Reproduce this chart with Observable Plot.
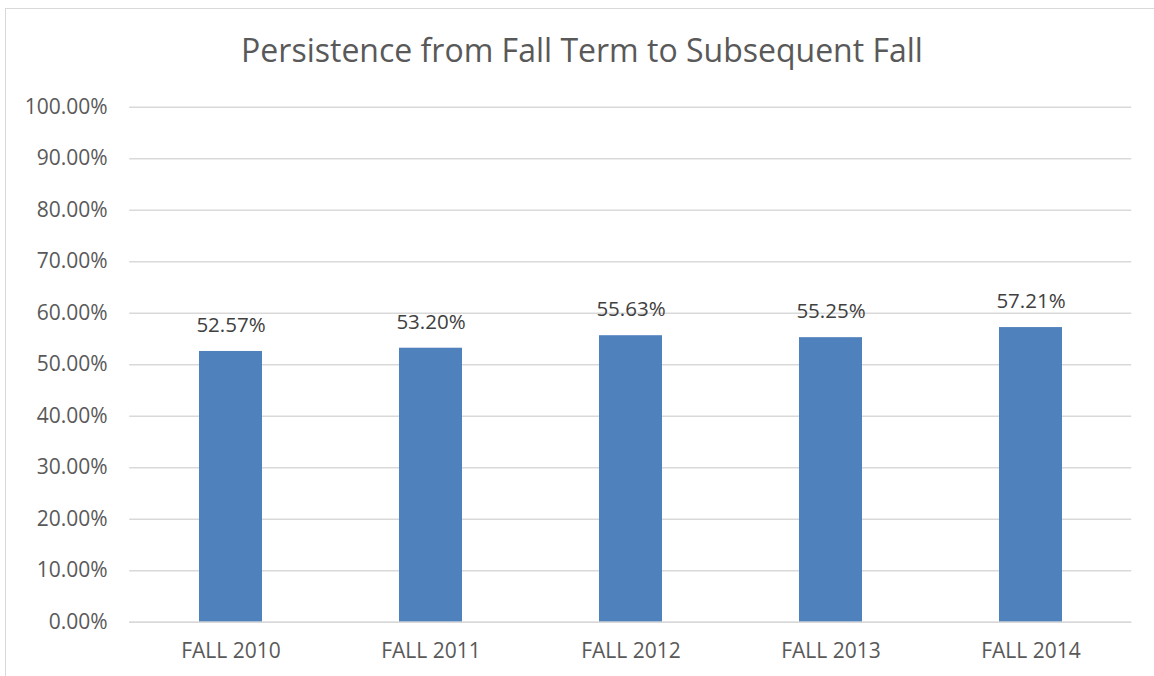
<!DOCTYPE html>
<html>
<head>
<meta charset="utf-8">
<script src="https://cdn.jsdelivr.net/npm/d3@7"></script>
<script src="https://cdn.jsdelivr.net/npm/@observablehq/plot@0.6"></script>
<style>
  html, body { margin: 0; padding: 0; background: #fff; }
  #wrap { position: relative; width: 1154px; height: 676px; overflow: hidden; font-family: "Open Sans", sans-serif; }
  #frame { position: absolute; left: 5px; top: 8px; width: 1200px; height: 700px; border-left: 1.5px solid #d9d9d9; border-top: 1.5px solid #d9d9d9; }
  #title { position: absolute; left: 5px; width: 1154px; top: 27px; text-align: center; font-size: 32px; color: #595959; line-height: 46px; }
  #chart { position: absolute; left: 0; top: 90px; }
</style>
</head>
<body>
<div id="wrap">
  <div id="frame"></div>
  <div id="title">Persistence from Fall Term to Subsequent Fall</div>
  <div id="chart"></div>
</div>
<script>
const categories = ["FALL 2010", "FALL 2011", "FALL 2012", "FALL 2013", "FALL 2014"];
const values = [0.5257, 0.5320, 0.5563, 0.5525, 0.5721];
const yTicks = [0, 0.1, 0.2, 0.3, 0.4, 0.5, 0.6, 0.7, 0.8, 0.9, 1.0];

const data = categories.map((c, i) => ({category: c, value: values[i]}));
const fmt = d3.format(".2%");

const chart = Plot.plot({
  width: 1154,
  height: 586,
  marginTop: 16.7,
  marginBottom: 54.3,
  marginLeft: 129.2,
  marginRight: 22.8,
  style: {fontFamily: "Open Sans, sans-serif", fontSize: "21px", color: "#595959", background: "transparent"},
  x: {domain: categories, paddingInner: 0.687, paddingOuter: 0.3435, label: null},
  y: {domain: [0, 1], label: null},
  marks: [
    Plot.gridY(yTicks, {stroke: "#d9d9d9", strokeOpacity: 1, strokeWidth: 1.5}),
    Plot.axisY(yTicks, {tickSize: 0, tickPadding: 22, tickFormat: fmt, label: null, fill: "#595959", fontSize: 21}),
    Plot.axisX({tickSize: 0, tickPadding: 21, label: null, fill: "#595959", fontSize: 21}),
    Plot.barY(data, {x: "category", y: "value", fill: "#4f81bd"}),
    Plot.ruleY([0], {stroke: "#d9d9d9", strokeWidth: 1.5}),
    Plot.text(data, {x: "category", y: "value", text: d => fmt(d.value), dy: -26, fill: "#404040", fontSize: 20.5})
  ]
});
document.getElementById("chart").appendChild(chart);
</script>
</body>
</html>
